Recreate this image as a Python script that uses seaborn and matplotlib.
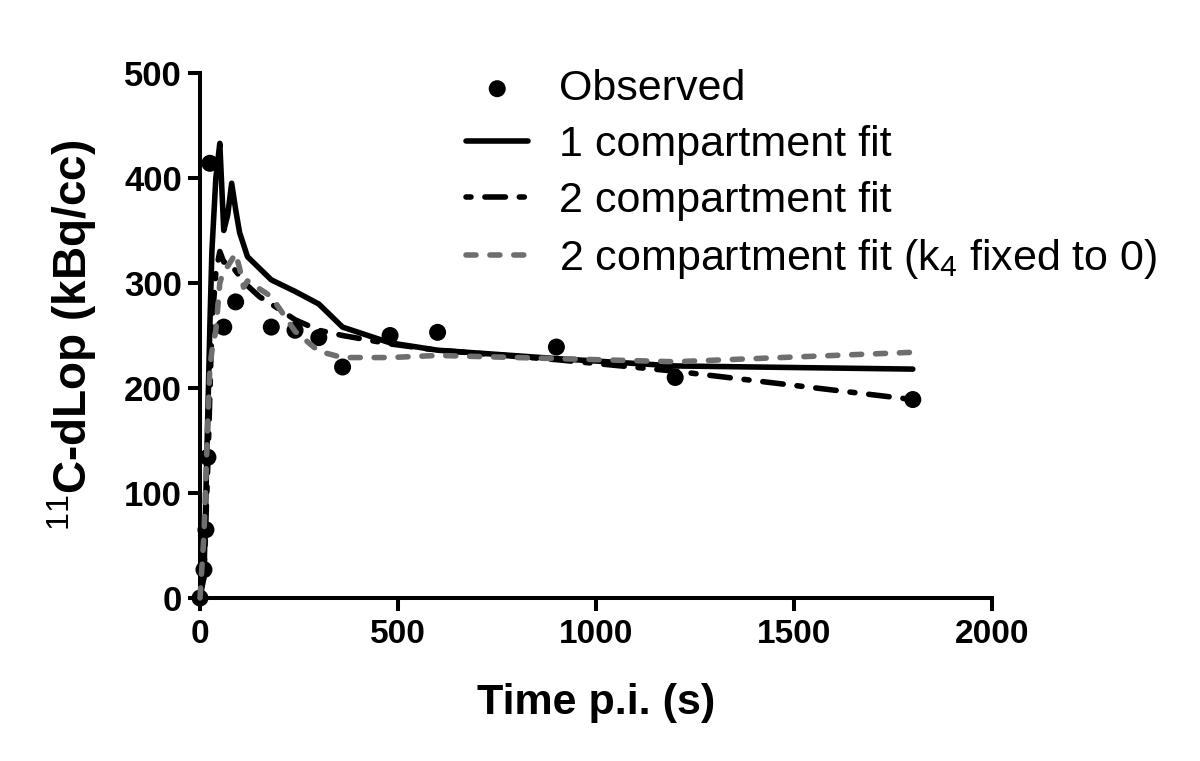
import numpy as np
import pandas as pd
import matplotlib
matplotlib.use("Agg")
import matplotlib.pyplot as plt
import seaborn as sns

# -----------------------------
# Data
# -----------------------------
obs_t = [0, 10, 15, 20, 25, 60, 90, 180, 240, 300, 360, 480, 600, 900, 1200, 1800]
obs_y = [0, 27, 65, 134, 414, 258, 282, 258, 255, 248, 220, 250, 253, 239, 210, 189]

one_t = [0, 10, 20, 25, 30, 40, 50, 60, 70, 80, 90, 100, 120, 180, 240, 300, 360, 480, 600, 900, 1200, 1800]
one_y = [0, 20, 180, 260, 330, 400, 433, 350, 365, 395, 370, 348, 325, 303, 292, 280, 258, 243, 236, 228, 221, 218]

two_t = [0, 10, 20, 30, 40, 50, 60, 75, 95, 110, 150, 180, 240, 300, 360, 480, 600, 900, 1200, 1800]
two_y = [0, 20, 130, 260, 310, 330, 320, 319, 309, 301, 287, 280, 265, 255, 250, 242, 236, 227, 216, 189]

k4_t = [0, 10, 20, 25, 30, 40, 50, 60, 70, 80, 90, 100, 110, 120, 180, 240, 300, 360, 480, 600, 900, 1200, 1800]
k4_y = [0, 60, 170, 220, 235, 255, 300, 312, 316, 322, 328, 314, 296, 302, 287, 254, 235, 229, 229, 231, 228, 225, 234]

labels = ["Observed", "1 compartment fit", "2 compartment fit",
          "2 compartment fit (k$_4$ fixed to 0)"]

# -----------------------------
# Style
# -----------------------------
sns.set_theme(style="ticks")
plt.rcParams["font.family"] = ["Liberation Sans", "DejaVu Sans"]
plt.rcParams["mathtext.fontset"] = "custom"
plt.rcParams["mathtext.rm"] = "Liberation Sans"
plt.rcParams["mathtext.it"] = "Liberation Sans"
plt.rcParams["mathtext.bf"] = "Liberation Sans:bold"
for k in ["text.color", "axes.labelcolor", "xtick.color", "ytick.color", "axes.edgecolor"]:
    plt.rcParams[k] = "black"

fig = plt.figure(figsize=(12, 7.61), dpi=100)
ax = fig.add_axes([200 / 1200, 1 - 598 / 761, 792 / 1200, 525 / 761])

obs = pd.DataFrame({"t": obs_t, "y": obs_y})
one = pd.DataFrame({"t": one_t, "y": one_y})
two = pd.DataFrame({"t": two_t, "y": two_y})
k4 = pd.DataFrame({"t": k4_t, "y": k4_y})

lw = 4.0
sns.scatterplot(data=obs, x="t", y="y", ax=ax, color="black", s=150,
                edgecolor="none", label=labels[0], clip_on=False, zorder=2)
sns.lineplot(data=one, x="t", y="y", ax=ax, color="black", lw=lw,
             errorbar=None, label=labels[1], clip_on=False, zorder=3,
             solid_capstyle="round", solid_joinstyle="round")
sns.lineplot(data=two, x="t", y="y", ax=ax, color="black", lw=lw,
             errorbar=None, label=labels[2], clip_on=False, zorder=3,
             linestyle=(6.2, (3.7, 2.5, 0.9, 2.5)), dash_capstyle="round")
sns.lineplot(data=k4, x="t", y="y", ax=ax, color="#6e6e6e", lw=lw,
             errorbar=None, label=labels[3], clip_on=False, zorder=3,
             linestyle=(0, (1.8, 2.5)), dash_capstyle="round")

ax.set_xlim(0, 2000)
ax.set_ylim(0, 500)
ax.set_xticks([0, 500, 1000, 1500, 2000])
ax.set_yticks([0, 100, 200, 300, 400, 500])

for s in ["left", "bottom"]:
    ax.spines[s].set_linewidth(2.9)
sns.despine(ax=ax)
ax.tick_params(axis="both", width=2.9, length=9, labelsize=24, color="black")
ax.tick_params(axis="x", pad=6)
ax.tick_params(axis="y", labelsize=25, pad=4)
for lab in ax.get_xticklabels() + ax.get_yticklabels():
    lab.set_fontweight("bold")

ax.set_xlabel("Time p.i. (s)", fontsize=31, fontweight="bold", labelpad=24)
ax.set_ylabel("$^{11}$C-dLop (kBq/cc)", fontsize=33, fontweight="bold", labelpad=18)

leg = ax.legend(loc="upper left", bbox_to_anchor=(466 / 1200, 1 - 69 / 761),
                bbox_transform=fig.transFigure, frameon=False, fontsize=31,
                handlelength=1.45, handletextpad=0.72, labelspacing=0.37,
                borderpad=0, borderaxespad=0, markerscale=1.0)

fig.savefig("out.png", dpi=100)
